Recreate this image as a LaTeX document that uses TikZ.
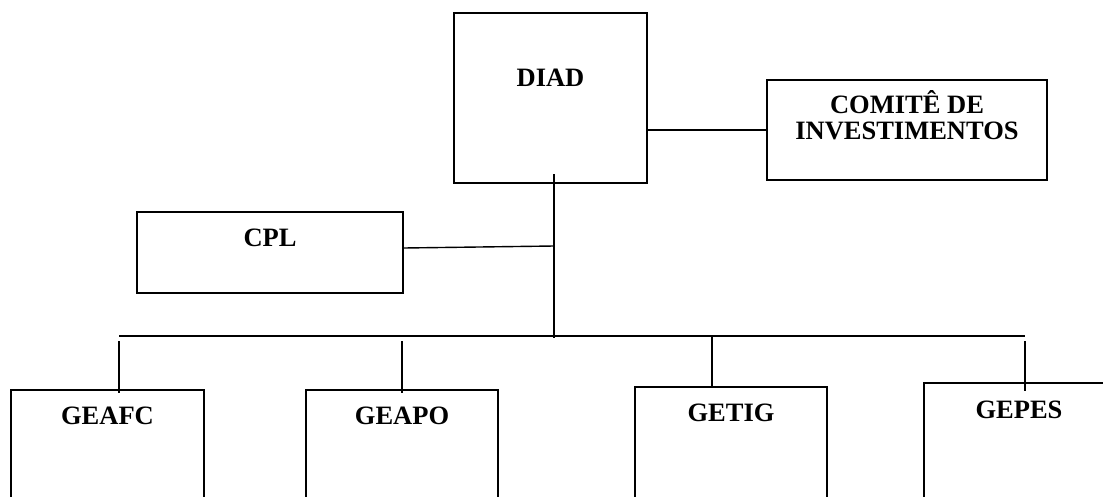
\documentclass[tikz,border=0pt]{standalone}
\usepackage{fontspec}
\setmainfont{Liberation Serif}
\begin{document}
\begin{tikzpicture}[x=1pt,y=-1pt,
  box/.style={draw, line width=1.4pt, inner sep=0pt},
  lbl/.style={anchor=center, font=\fontsize{26.5}{26}\selectfont\bfseries, align=center, inner sep=0pt},
  conn/.style={line width=1.4pt}]
\clip (0,0) rectangle (1103,496);
\fill[white] (0,0) rectangle (1103,496);
\node[box, minimum width=193pt, minimum height=170pt,
  label={[lbl,yshift=-65pt]north:DIAD}] (diad) at (550.5,98) {};
\node[box, minimum width=280pt, minimum height=100pt,
  label={[lbl,yshift=-36pt]north:COMITÊ DE\\INVESTIMENTOS}] (comite) at (907,130) {};
\node[box, minimum width=266pt, minimum height=81pt,
  label={[lbl,yshift=-27pt]north:CPL}] (cpl) at (270,252.5) {};
\node[box, minimum width=193pt, minimum height=140pt,
  label={[lbl,yshift=-27pt]north:GEAFC}] (geafc) at (107.5,460) {};
\node[box, minimum width=192pt, minimum height=140pt,
  label={[lbl,yshift=-27pt]north:GEAPO}] (geapo) at (402,460) {};
\node[box, minimum width=192pt, minimum height=143pt,
  label={[lbl,yshift=-27pt]north:GETIG}] (getig) at (731,458.5) {};
\node[box, minimum width=216pt, minimum height=147pt,
  label={[lbl,yshift=-28pt,xshift=-13pt]north:GEPES}] (gepes) at (1032,456.5) {};
% connectors
\coordinate (top) at (554,174);
\coordinate (jc) at (554,246);
\coordinate (jb) at (554,338);
\coordinate (busL) at (119,336);
\coordinate (busR) at (1025,336);
\coordinate (t1) at (119,341);
\coordinate (t2) at (402,341);
\coordinate (t3) at (712,336);
\coordinate (t4) at (1025,341);
\draw[conn] (comite.west) -- (comite.west -| diad.east);
\draw[conn] (top) -- (jb);
\draw[conn] ([yshift=4.5pt]cpl.east) -- (jc);
\draw[conn] (busL) -- (busR);
\draw[conn] (t1) -- ([yshift=-4pt]t1 |- geafc.north);
\draw[conn] (t2) -- ([yshift=-4pt]t2 |- geapo.north);
\draw[conn] (t3) -- (t3 |- getig.north);
\draw[conn] (t4) -- ([yshift=-9pt]t4 |- gepes.north);
\end{tikzpicture}
\end{document}
